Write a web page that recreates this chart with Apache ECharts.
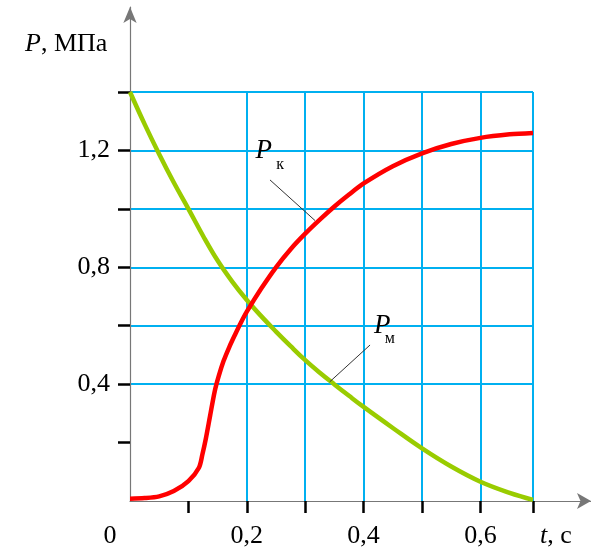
<!DOCTYPE html>
<html><head><meta charset="utf-8">
<script src="https://cdn.jsdelivr.net/npm/echarts@6/dist/echarts.min.js"></script>
<style>html,body{margin:0;padding:0;background:#fff}#c{width:591px;height:555px}</style>
</head><body><div id="c"></div>
<script>
// Pк curve (t, s ; P, MPa)
const tK = [0, 0.025, 0.05, 0.075, 0.1, 0.118, 0.124, 0.13, 0.137, 0.145, 0.152, 0.16, 0.17, 0.18, 0.19, 0.2, 0.225, 0.25, 0.275, 0.3, 0.325, 0.35, 0.375, 0.4, 0.45, 0.5, 0.55, 0.6, 0.65, 0.69];
const pK = [0.008, 0.01, 0.016, 0.034, 0.068, 0.114, 0.16, 0.215, 0.29, 0.375, 0.428, 0.478, 0.527, 0.57, 0.611, 0.648, 0.728, 0.80, 0.862, 0.915, 0.963, 1.008, 1.049, 1.087, 1.146, 1.19, 1.222, 1.243, 1.255, 1.26];
// Pм curve
const tM = [0, 0.025, 0.05, 0.075, 0.1, 0.125, 0.15, 0.175, 0.2, 0.225, 0.25, 0.275, 0.3, 0.325, 0.35, 0.375, 0.4, 0.45, 0.5, 0.55, 0.6, 0.65, 0.69];
const pM = [1.4, 1.29, 1.187, 1.09, 1.0, 0.908, 0.823, 0.751, 0.688, 0.632, 0.58, 0.53, 0.482, 0.439, 0.399, 0.36, 0.322, 0.25, 0.18, 0.118, 0.066, 0.028, 0.004];

const xTickValues = [0.1, 0.2, 0.3, 0.4, 0.5, 0.6, 0.69];
const xLabelValues = [0, 0.2, 0.4, 0.6, 0.69];
const xLabelTexts = ['{z|0}', '{n|0,2}', '{n|0,4}', '{n|0,6}', '{ti|t}{n|, c}'];
const yTickValues = [0.2, 0.4, 0.6, 0.8, 1.0, 1.2, 1.4];
const yLabelValues = [0.4, 0.8, 1.2];
const yLabelTexts = ['0,4', '0,8', '1,2'];
const yTitle = '{i|P}{n|, МПа}';
const xMax = 0.69, yMax = 1.4;

// annotation labels and leader lines (data coordinates)
const annP = 'P', annK = 'к', annM = 'м';
const labelK = [0.229, 1.199], subK = [0.257, 1.151];
const labelM = [0.432, 0.599], subM = [0.445, 0.555];
const leaderK = [[0.2397, 1.099], [0.3168, 0.960]];
const leaderM = [[0.411, 0.534], [0.342, 0.408]];

const FONT = 'Liberation Serif';
const BLUE = '#00B0F0', RED = '#FF0000', GREEN = '#99CC00', AXIS = '#777777';

function zip(a, b) { return a.map((v, i) => [v, b[i]]); }
function pickText(vals, texts, v) {
  const i = vals.findIndex(x => Math.abs(x - v) < 1e-6);
  return i < 0 ? '' : texts[i];
}

const chart = echarts.init(document.getElementById('c'), null, {renderer: 'canvas'});
const letterLabel = (size, italic) => ({
  show: true, position: 'inside', color: '#000', fontFamily: FONT,
  fontSize: size, fontStyle: italic ? 'italic' : 'normal', fontWeight: 'normal'
});
chart.setOption({
  animation: false,
  backgroundColor: '#fff',
  title: {
    text: yTitle, left: 20, top: 26,
    textStyle: { fontWeight: 'normal', rich: {
      i: { fontFamily: FONT, fontSize: 26, fontStyle: 'italic', fontWeight: 'normal', color: '#000' },
      n: { fontFamily: FONT, fontSize: 26, fontWeight: 'normal', color: '#000' }
    } }
  },
  grid: [
    { left: 130, right: 58, top: 92, bottom: 54 },
    { left: 130, right: 0, top: 7, bottom: 54 }
  ],
  xAxis: [
    {
      gridIndex: 0, type: 'value', min: 0, max: xMax, interval: 0.1,
      axisLine: { show: false },
      axisTick: { show: true, customValues: xTickValues, length: 12, lineStyle: { color: '#000', width: 2.5 } },
      axisLabel: {
        show: true, customValues: xLabelValues, margin: 22,
        formatter: v => pickText(xLabelValues, xLabelTexts, v),
        rich: {
          z: { fontFamily: FONT, fontSize: 26, color: '#000', padding: [0, 40, 0, 0] },
          n: { fontFamily: FONT, fontSize: 26, color: '#000' },
          ti: { fontFamily: FONT, fontSize: 26, fontStyle: 'italic', color: '#000', padding: [0, 0, 0, 46] }
        }
      },
      splitLine: { show: true, showMinLine: false, showMaxLine: true, lineStyle: { color: BLUE, width: 2 } }
    },
    {
      gridIndex: 1, type: 'value', min: 0, max: 1,
      axisLine: { show: true, symbol: ['none', 'arrow'], symbolSize: [12, 14], lineStyle: { color: AXIS, width: 1.2 } },
      axisTick: { show: false }, axisLabel: { show: false }, splitLine: { show: false }
    }
  ],
  yAxis: [
    {
      gridIndex: 0, type: 'value', min: 0, max: yMax, interval: 0.2,
      axisLine: { show: false },
      axisTick: { show: true, customValues: yTickValues, length: 12, lineStyle: { color: '#000', width: 2.5 } },
      axisLabel: {
        show: true, customValues: yLabelValues, margin: 20,
        formatter: v => pickText(yLabelValues, yLabelTexts, v),
        fontFamily: FONT, fontSize: 26, color: '#000'
      },
      splitLine: { show: true, showMinLine: false, showMaxLine: true, lineStyle: { color: BLUE, width: 2 } }
    },
    {
      gridIndex: 1, type: 'value', min: 0, max: 1,
      axisLine: { show: true, symbol: ['none', 'arrow'], symbolSize: [10, 16], lineStyle: { color: AXIS, width: 1.2 } },
      axisTick: { show: false }, axisLabel: { show: false }, splitLine: { show: false }
    }
  ],
  series: [
    {
      name: 'Pм', type: 'line', xAxisIndex: 0, yAxisIndex: 0,
      data: zip(tM, pM), smooth: 0.4, showSymbol: false, clip: false,
      lineStyle: { color: GREEN, width: 4.5 }, z: 3,
      markLine: {
        silent: true, symbol: 'none', label: { show: false },
        lineStyle: { color: '#333', width: 1, type: 'solid' },
        data: [[{ coord: leaderM[0] }, { coord: leaderM[1] }]]
      },
      markPoint: {
        symbolSize: 0, silent: true,
        data: [
          { coord: labelM, label: Object.assign(letterLabel(27, true), { formatter: annP }) },
          { coord: subM, label: Object.assign(letterLabel(16, false), { formatter: annM }) }
        ]
      }
    },
    {
      name: 'Pк', type: 'line', xAxisIndex: 0, yAxisIndex: 0,
      data: zip(tK, pK), smooth: 0.3, showSymbol: false, clip: false,
      lineStyle: { color: RED, width: 4.5 }, z: 4,
      markLine: {
        silent: true, symbol: 'none', label: { show: false },
        lineStyle: { color: '#333', width: 1, type: 'solid' },
        data: [[{ coord: leaderK[0] }, { coord: leaderK[1] }]]
      },
      markPoint: {
        symbolSize: 0, silent: true,
        data: [
          { coord: labelK, label: Object.assign(letterLabel(27, true), { formatter: annP }) },
          { coord: subK, label: Object.assign(letterLabel(16, false), { formatter: annK }) }
        ]
      }
    }
  ]
});
</script></body></html>
